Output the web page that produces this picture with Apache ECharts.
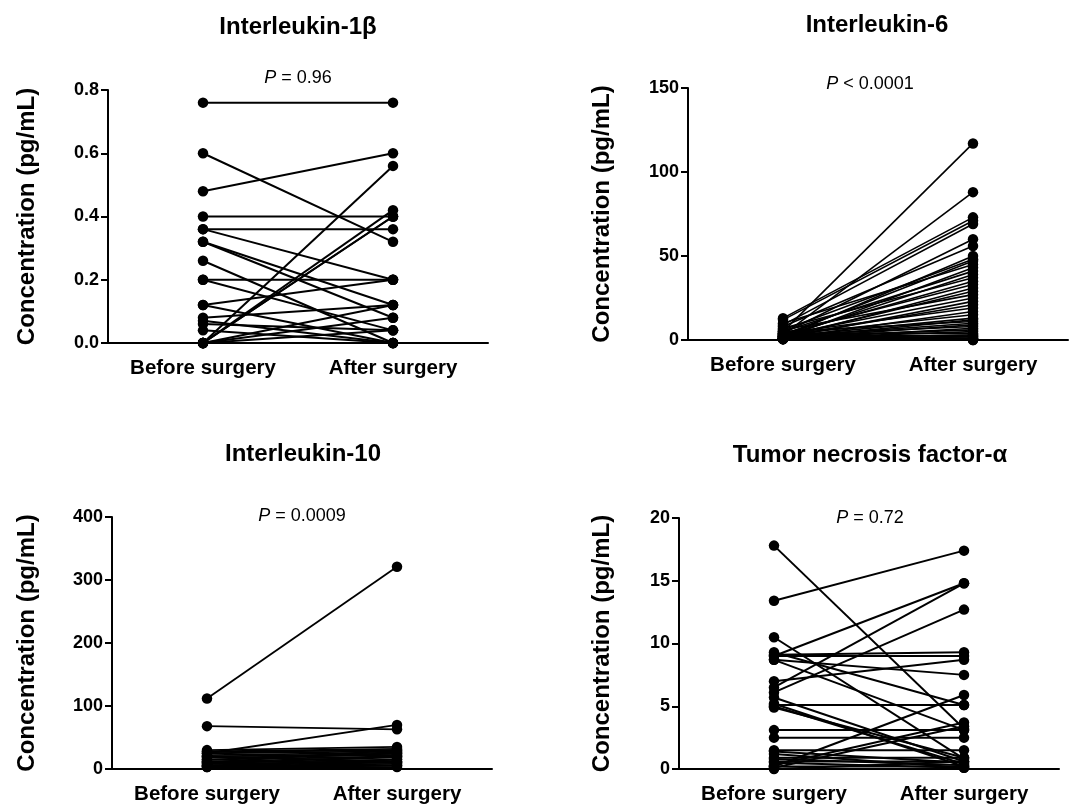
<!DOCTYPE html>
<html><head><meta charset="utf-8">
<script src="https://cdn.jsdelivr.net/npm/echarts@6/dist/echarts.min.js"></script>
<style>html,body{margin:0;padding:0;background:#fff}#c{width:1072px;height:805px}</style>
</head><body><div id="c"></div>
<script>
const categories = ['Before surgery', 'After surgery'];
const titles = ['Interleukin-1β', 'Interleukin-6', 'Interleukin-10', 'Tumor necrosis factor-α'];
const pValues = ['= 0.96', '< 0.0001', '= 0.0009', '= 0.72'];
const yLabel = 'Concentration (pg/mL)';

const il1bBefore = [0.76,0.60,0.48,0.40,0.36,0.36,0.32,0.32,0.26,0.20,0.20,0.12,0.12,0.08,0.07,0.06,0.04,0.00,0.00,0.00,0.00,0.00,0.00,0.00,0.00,0.00];
const il1bAfter  = [0.76,0.32,0.60,0.40,0.36,0.20,0.12,0.08,0.00,0.20,0.04,0.00,0.20,0.12,0.00,0.04,0.00,0.56,0.42,0.40,0.40,0.12,0.08,0.04,0.00,0.00];
const il1bTicks = [0, 0.2, 0.4, 0.6, 0.8];

const il6Before = [5,3,13,12,9,4,8,2,6,3,10,1,5,2,7,3,4,1,2,6,3,1,2,4,1,3,2,1,5,2,1,3,0.5,2,1,4,1,2,0.5,1,3,0.5,1,2,1,0.5];
const il6After  = [117,88,73,71,69,60,56,50,48,47,45,43,41,39,37,35,33,31,29,27,25,23,21,19,17,15,13,12,11,10,9,8,7,6,5,4,3,3,2,2,1,1,0.5,0.5,0,0];
const il6Ticks = [0, 50, 100, 150];

const il10Before = [112,68,25,30,28,27,25,22,20,18,15,12,10,8,6,5,4,3,15,10,20,8,5,3,12];
const il10After  = [321,63,70,35,32,30,28,26,24,22,20,18,15,12,10,8,6,5,25,30,12,20,15,3,10];
const il10Ticks = [0, 100, 200, 300, 400];

const tnfBefore = [17.8,13.4,10.5,9.3,9.0,9.0,8.7,9.1,7.0,6.5,6.1,5.7,5.1,5.0,4.9,5.2,3.1,2.5,1.5,1.4,0.2,0.3,0.6,0.9,0.1,0.5,0.2,0.8,0.0,1.2,8.7];
const tnfAfter  = [3.2,17.4,0.8,5.1,14.8,9.0,7.5,9.3,8.7,14.8,12.7,0.6,5.1,0.4,0.9,0.2,3.1,2.5,1.5,0.5,5.9,3.7,0.6,0.9,3.4,0.1,0.2,0.3,0.6,0.1,3.1];
const tnfTicks = [0, 5, 10, 15, 20];

const panels = [
  {b: il1bBefore, a: il1bAfter, ticks: il1bTicks, dec: 1},
  {b: il6Before, a: il6After, ticks: il6Ticks, dec: 0},
  {b: il10Before, a: il10After, ticks: il10Ticks, dec: 0},
  {b: tnfBefore, a: tnfAfter, ticks: tnfTicks, dec: 0}
];

const FONT = '"Liberation Sans", Arial, Helvetica, sans-serif';
const layout = [
  {left: 108, top: 90, width: 380, height: 253, nameGap: 69, tx: 298, ty: 15, px: 298, py: 69, lw: 2},
  {left: 688, top: 88, width: 380, height: 252, nameGap: 74, tx: 877, ty: 13, px: 870, py: 75, lw: 1.6},
  {left: 112, top: 517, width: 380, height: 253, nameGap: 73, tx: 303, ty: 442, px: 302, py: 507, lw: 1.8},
  {left: 679, top: 518, width: 380, height: 253, nameGap: 65, tx: 870, ty: 443, px: 870, py: 509, lw: 2}
];

const grid = [], xAxis = [], yAxis = [], series = [], title = [];
panels.forEach((p, i) => {
  const L = layout[i];
  grid.push({left: L.left, top: L.top, width: L.width, height: L.height, containLabel: false});
  xAxis.push({
    type: 'category', gridIndex: i, data: categories, boundaryGap: true,
    axisLine: {lineStyle: {color: '#000', width: 2}},
    axisTick: {show: false},
    axisLabel: {color: '#000', fontFamily: FONT, fontWeight: 'bold', fontSize: 20.5, margin: 15, interval: 0},
    splitLine: {show: false}
  });
  const t = p.ticks;
  yAxis.push({
    type: 'value', gridIndex: i, min: t[0], max: t[t.length - 1], interval: t[1] - t[0],
    name: yLabel, nameLocation: 'middle', nameRotate: 90, nameGap: L.nameGap,
    nameTextStyle: {color: '#000', fontFamily: FONT, fontWeight: 'bold', fontSize: 24},
    axisLine: {show: true, lineStyle: {color: '#000', width: 2}},
    axisTick: {show: true, inside: false, length: 7, lineStyle: {color: '#000', width: 2}},
    axisLabel: {color: '#000', fontFamily: FONT, fontWeight: 'bold', fontSize: 18, margin: 9,
      formatter: v => v.toFixed(p.dec)},
    splitLine: {show: false}
  });
  title.push({
    text: titles[i], left: L.tx, top: L.ty, textAlign: 'center', padding: 0,
    textStyle: {color: '#000', fontFamily: FONT, fontWeight: 'bold', fontSize: 24}
  });
  title.push({
    text: '{i|P} ' + pValues[i], left: L.px, top: L.py, textAlign: 'center', padding: 0,
    textStyle: {color: '#000', fontFamily: FONT, fontWeight: 'normal', fontSize: 18,
      rich: {i: {fontStyle: 'italic', fontFamily: FONT, fontSize: 18, color: '#000'}}}
  });
  for (let k = 0; k < p.b.length; k++) {
    series.push({
      type: 'line', xAxisIndex: i, yAxisIndex: i, data: [p.b[k], p.a[k]],
      symbol: 'circle', symbolSize: 10.5, clip: false, silent: true,
      lineStyle: {color: '#000', width: L.lw}, itemStyle: {color: '#000'}
    });
  }
});

const chart = echarts.init(document.getElementById('c'), null, {renderer: 'canvas'});
chart.setOption({backgroundColor: '#fff', animation: false, title, grid, xAxis, yAxis, series});
</script></body></html>
